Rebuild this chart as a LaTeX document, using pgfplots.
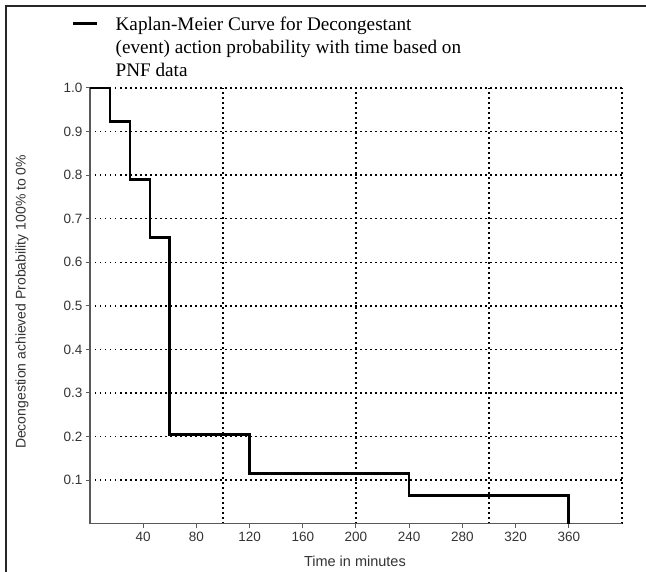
\documentclass[border=0pt]{standalone}
\usepackage{pgfplots}
\pgfplotsset{compat=1.18}
\usepackage{fontspec}
\setmainfont{Liberation Sans}
\newfontfamily\seriffont{Liberation Serif}
\begin{document}
\begin{tikzpicture}[x=1pt,y=1pt]
\path[use as bounding box] (0,0) rectangle (646,-572);
\draw[line width=2pt, black!85] (6,-572) -- (6,-6) -- (646,-6);
\begin{axis}[
  at={(90pt,-523.6pt)}, anchor=south west,
  scale only axis, width=532pt, height=435.6pt,
  xmin=0, xmax=400, ymin=0, ymax=1.0,
  axis lines=left,
  axis line style={-, black!65, line width=1.4pt},
  xtick={40,80,...,360},
  ytick={0.1,0.2,...,1.0},
  minor xtick={100,200,300,400},
  minor tick length=0pt,
  tick align=outside,
  major tick length=4pt,
  tick style={black!65, line width=1pt},
  xmajorgrids=false, xminorgrids=true,
  ymajorgrids=true,
  grid style={black, dash pattern=on 1.5pt off 3.5pt, line width=1.4pt},
  minor grid style={black, dash pattern=on 1.5pt off 3.5pt, line width=1.4pt},
  yticklabel style={/pgf/number format/fixed, /pgf/number format/precision=1, /pgf/number format/fixed zerofill},
  /pgf/number format/assume math mode=true,
  ticklabel style={font=\fontsize{13.5}{15}\selectfont, text=black!80},
  xticklabel style={yshift=-1pt},
  xlabel={Time in minutes},
  xlabel style={at={(axis description cs:0.498,-0.087)}, anchor=center, font=\fontsize{14.5}{16}\selectfont, text=black!80},
  ylabel={Decongestion achieved Probability 100\% to 0\%},
  ylabel style={at={(axis description cs:-0.128,0.509)}, anchor=center, rotate=0, font=\fontsize{14}{16}\selectfont, text=black!80},
  clip=false,
  legend style={draw=none, fill=none, inner sep=0pt, at={(axis description cs:-0.034,1.173)}, anchor=north west,
    font=\seriffont\fontsize{19.2}{23}\selectfont, legend cell align=left,
    /tikz/every odd column/.append style={column sep=15pt}},
  legend image code/.code={\draw[#1, line width=2.5pt] (0pt,0pt) -- (24pt,0pt);},
]
\addplot[const plot, black, line width=2.6pt] coordinates {
  (0,1.0) (15,0.923) (30,0.790) (45,0.657) (60,0.205) (120,0.115) (240,0.064) (360,0)
};
\addlegendentry{\begin{tabular}[t]{@{}l@{}}Kaplan-Meier Curve for Decongestant\\(event) action probability with time based on\\PNF data\end{tabular}}
\end{axis}
\end{tikzpicture}
\end{document}
